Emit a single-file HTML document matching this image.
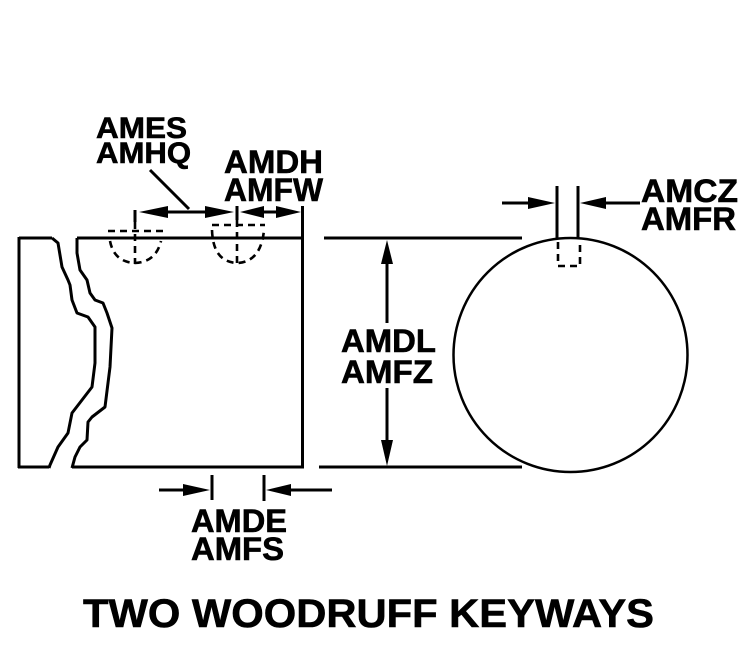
<!DOCTYPE html>
<html><head><meta charset="utf-8"><style>
html,body{margin:0;padding:0;background:#fff;}
svg{display:block;}
text{font-family:"Liberation Sans",Arial,sans-serif;font-weight:bold;fill:#000;stroke:#000;stroke-width:0.6;}
</style></head><body>
<svg width="755" height="649" viewBox="0 0 755 649" xmlns="http://www.w3.org/2000/svg">
<g fill="none" stroke="#000" stroke-width="3" stroke-linejoin="round">
  <!-- shaft side view -->
  <line x1="19" y1="238" x2="52" y2="238"/>
  <line x1="77" y1="238" x2="304" y2="238"/>
  <line x1="19" y1="237" x2="19" y2="468"/>
  <line x1="302.5" y1="206" x2="302.5" y2="468"/>
  <line x1="18" y1="467" x2="49" y2="467"/>
  <line x1="72" y1="467" x2="304" y2="467"/>
  <polyline points="52,238 58,243 62,267 68,280 70,285 72,300 77,313 88,317 95,327 95,363 92,387 72,413 68,433 58,447 50,465 49,468"/>
  <polyline points="77,238 77,253 80,270 87,280 90,293 95,300 103,303 107,313 112,328 110,367 105,407 92,417 88,422 87,440 80,447 75,457 72,468"/>
</g>
<g fill="none" stroke="#000" stroke-width="2.6" stroke-dasharray="7,5">
  <!-- keyway 1 -->
  <line x1="108" y1="231" x2="163" y2="231"/>
  <path d="M110,241 Q114,262 135,263 Q156,262 161,241"/>
  <line x1="135" y1="222" x2="135" y2="264"/>
  <!-- keyway 2 -->
  <line x1="212" y1="225" x2="265" y2="225"/>
  <path d="M212,230 Q213,262 237,263 Q261,262 264,230"/>
  <line x1="237" y1="220" x2="237" y2="264"/>
  <!-- key on circle -->
  <path d="M558,242 L558,266 L580,266 L580,242"/>
</g>
<g fill="none" stroke="#000" stroke-width="3">
  <!-- top dims -->
  <line x1="135" y1="210" x2="135" y2="222"/>
  <line x1="237" y1="206" x2="237" y2="220"/>
  <line x1="160" y1="212" x2="215" y2="212"/>
  <line x1="255" y1="212" x2="285" y2="212"/>
  <line x1="150" y1="170" x2="189" y2="209"/>
  <!-- extension lines -->
  <line x1="324" y1="238" x2="522" y2="238"/>
  <line x1="319" y1="467" x2="522" y2="467"/>
  <!-- vertical dim -->
  <line x1="387" y1="260" x2="387" y2="323"/>
  <line x1="387" y1="388" x2="387" y2="442"/>
  <!-- AMCZ dims -->
  <line x1="557" y1="186" x2="557" y2="238"/>
  <line x1="578" y1="186" x2="578" y2="238"/>
  <line x1="502" y1="203" x2="535" y2="203"/>
  <line x1="600" y1="203" x2="640" y2="203"/>
  <!-- AMDE dims -->
  <line x1="212" y1="475" x2="212" y2="500"/>
  <line x1="264" y1="475" x2="264" y2="501"/>
  <line x1="159" y1="490" x2="190" y2="490"/>
  <line x1="285" y1="490" x2="332" y2="490"/>
</g>
<circle cx="570.5" cy="355" r="117" fill="none" stroke="#000" stroke-width="2.5"/>
<g fill="#000" stroke="none">
  <polygon points="139,212 168,206 168,218"/>
  <polygon points="234,212 205,206 205,218"/>
  <polygon points="240,212 264,206 264,218"/>
  <polygon points="301,212 276,206 276,218"/>
  <polygon points="387,240 381,264 393,264"/>
  <polygon points="387,466 381,440 393,440"/>
  <polygon points="555,203 528,197 528,209"/>
  <polygon points="580,203 606,197 606,209"/>
  <polygon points="210,490 183,484 183,496"/>
  <polygon points="266,490 291,484 291,496"/>
</g>
<text x="96" y="138" font-size="30" textLength="91" lengthAdjust="spacingAndGlyphs">AMES</text>
<text x="96" y="163" font-size="30" textLength="95" lengthAdjust="spacingAndGlyphs">AMHQ</text>
<text x="224" y="173" font-size="32" textLength="99" lengthAdjust="spacingAndGlyphs">AMDH</text>
<text x="224" y="201" font-size="32" textLength="99" lengthAdjust="spacingAndGlyphs">AMFW</text>
<text x="641" y="202" font-size="32" textLength="97" lengthAdjust="spacingAndGlyphs">AMCZ</text>
<text x="641" y="230" font-size="32" textLength="95" lengthAdjust="spacingAndGlyphs">AMFR</text>
<text x="341" y="352" font-size="32" textLength="95" lengthAdjust="spacingAndGlyphs">AMDL</text>
<text x="341" y="383" font-size="32" textLength="92" lengthAdjust="spacingAndGlyphs">AMFZ</text>
<text x="191" y="532" font-size="32" textLength="96" lengthAdjust="spacingAndGlyphs">AMDE</text>
<text x="191" y="560" font-size="32" textLength="93" lengthAdjust="spacingAndGlyphs">AMFS</text>
<text x="83" y="627" font-size="40" textLength="571" lengthAdjust="spacingAndGlyphs">TWO WOODRUFF KEYWAYS</text>
</svg>
</body></html>
